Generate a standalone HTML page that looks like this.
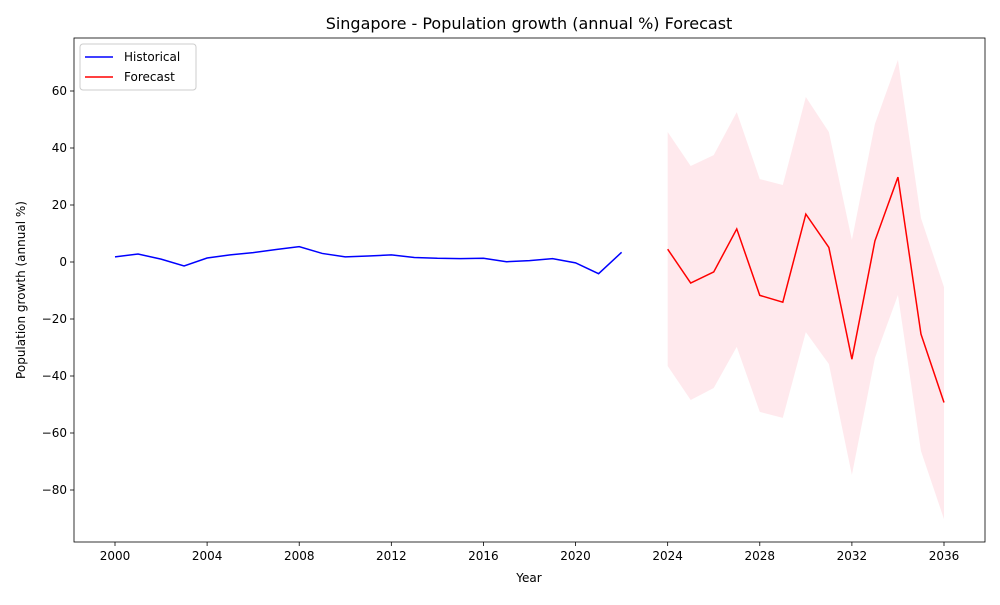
<!DOCTYPE html>
<html><head><meta charset="utf-8"><style>
body{margin:0;background:#fff;font-family:"Liberation Sans","DejaVu Sans",sans-serif}
svg text{font-family:"DejaVu Sans","Liberation Sans",sans-serif}
</style></head><body>
<svg id="c" width="1000" height="600">
<rect width="1000" height="600" fill="#fff"/>
</svg>
<script>
const histYears=[2000,2001,2002,2003,2004,2005,2006,2007,2008,2009,2010,2011,2012,2013,2014,2015,2016,2017,2018,2019,2020,2021,2022];
const histValues=[1.8,2.8,1.0,-1.4,1.4,2.5,3.3,4.4,5.4,3.0,1.8,2.1,2.5,1.6,1.3,1.2,1.3,0.1,0.5,1.2,-0.3,-4.1,3.4];
const fcYears=[2024,2025,2026,2027,2028,2029,2030,2031,2032,2033,2034,2035,2036];
const fcValues=[4.5,-7.4,-3.5,11.6,-11.7,-14.1,16.8,5.1,-34.1,7.4,29.8,-25.3,-49.3];
const fcUpper=[45.6,33.7,37.5,52.6,29.1,27.0,57.9,45.6,7.7,48.4,70.9,15.4,-8.8];
const fcLower=[-36.5,-48.4,-44.2,-29.8,-52.6,-54.7,-24.6,-35.8,-74.7,-33.7,-11.6,-66.3,-90.2];
const xTicks=[2000,2004,2008,2012,2016,2020,2024,2028,2032,2036];
const yTicks=[-80,-60,-40,-20,0,20,40,60];

const L=74,R=985,T=38,B=542;
const X=v=>115+(v-2000)*(829/36);
const Y=v=>262-v*2.85;
const svg=document.getElementById('c');
const NS='http://www.w3.org/2000/svg';
function mk(tag,attrs,parent){const e=document.createElementNS(NS,tag);for(const k in attrs)e.setAttribute(k,attrs[k]);(parent||svg).appendChild(e);return e;}

const band=mk('polygon',{points:fcYears.map((y,i)=>X(y)+','+Y(fcUpper[i])).concat(fcYears.map((y,i)=>X(y)+','+Y(fcLower[i])).reverse()).join(' '),fill:'#ffc0cb',opacity:0.35});


const hl=mk('polyline',{points:histYears.map((y,i)=>X(y)+','+Y(histValues[i])).join(' '),fill:'none',stroke:'#0000ff','stroke-width':1.5});


const fl=mk('polyline',{points:fcYears.map((y,i)=>X(y)+','+Y(fcValues[i])).join(' '),fill:'none',stroke:'#ff0000','stroke-width':1.5});



const frame=mk('rect',{x:L,y:T,width:R-L,height:B-T,fill:'none',stroke:'#000','stroke-width':0.8});


xTicks.forEach(t=>{
  mk('line',{x1:X(t),x2:X(t),y1:B,y2:B+4,stroke:'#000','stroke-width':0.8});
  const tx=mk('text',{x:X(t),y:B+18,'text-anchor':'middle','font-size':12});tx.textContent=t;
  
  
});
yTicks.forEach(t=>{
  mk('line',{x1:L-4,x2:L,y1:Y(t),y2:Y(t),stroke:'#000','stroke-width':0.8});
  const tx=mk('text',{x:L-7,y:Y(t)+4,'text-anchor':'end','font-size':12});tx.textContent=(t<0?'\u2212'+(-t):t);
  
  
});
const title=mk('text',{x:529,y:29,'text-anchor':'middle','font-size':16});title.textContent='Singapore - Population growth (annual %) Forecast';


const xt=mk('text',{x:529,y:582,'text-anchor':'middle','font-size':12});xt.textContent='Year';


const yt=mk('text',{x:25,y:290,'text-anchor':'middle','font-size':12,transform:'rotate(-90 25 290)'});yt.textContent='Population growth (annual %)';



const lg=mk('g',{});


mk('rect',{x:80,y:44,width:116,height:46,rx:3,fill:'#fff',stroke:'#ccc'},lg);
[['Historical','#0000ff',57],['Forecast','#ff0000',77]].forEach(([n,c,y])=>{
  const g=mk('g',{},lg);
  
  
  mk('line',{x1:85,x2:113,y1:y,y2:y,stroke:c,'stroke-width':1.5},g);
  const t=mk('text',{x:124,y:y+4,'font-size':12},g);t.textContent=n;
});
</script>
</body></html>
